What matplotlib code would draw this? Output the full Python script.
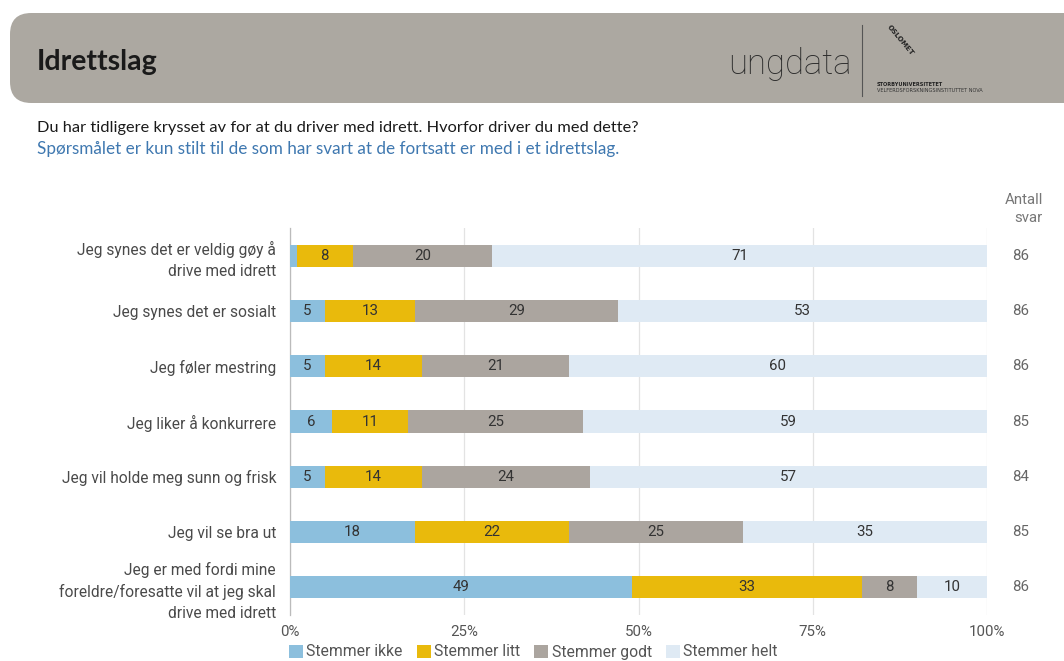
import matplotlib
matplotlib.use("Agg")
import matplotlib.pyplot as plt
from matplotlib.patches import FancyBboxPatch, Patch
from matplotlib.transforms import blended_transform_factory
from matplotlib.ticker import PercentFormatter

# Survey statements (top to bottom)
statements = [
    "Jeg synes det er veldig gøy å\ndrive med idrett",
    "Jeg synes det er sosialt",
    "Jeg føler mestring",
    "Jeg liker å konkurrere",
    "Jeg vil holde meg sunn og frisk",
    "Jeg vil se bra ut",
    "Jeg er med fordi mine\nforeldre/foresatte vil at jeg skal\ndrive med idrett",
]
# Percent answering each option
stemmer_ikke = [1, 5, 5, 6, 5, 18, 49]
stemmer_litt = [8, 13, 14, 11, 14, 22, 33]
stemmer_godt = [20, 29, 21, 25, 24, 25, 8]
stemmer_helt = [71, 53, 60, 59, 57, 35, 10]
antall_svar = [86, 86, 86, 85, 84, 85, 86]

series_names = ["Stemmer ikke", "Stemmer litt", "Stemmer godt", "Stemmer helt"]
series_values = [stemmer_ikke, stemmer_litt, stemmer_godt, stemmer_helt]
colors = ["#8CBFDD", "#E9BA0C", "#ABA59F", "#DFEAF4"]
tick_values = [0, 25, 50, 75, 100]

FS = 10.8  # base font size for chart text

W, H = 1064, 661
fig = plt.figure(figsize=(W / 100, H / 100), dpi=100)
fig.patch.set_facecolor("white")

# Header band
header = FancyBboxPatch((10 / W, 1 - 103 / H), 1.2, 90 / H,
                        boxstyle="round,pad=0,rounding_size=0.02",
                        transform=fig.transFigure, facecolor="#ACA8A1",
                        edgecolor="none", mutation_aspect=W / H)
fig.patches.append(header)
fig.text(37 / W, 1 - 62 / H, "Idrettslag", fontsize=20.5, fontweight="bold",
         family="Lato", color="#1a1a1a", va="center", ha="left")
fig.text(790 / W, 1 - 64 / H, "ungdata", fontsize=25, family="Roboto",
         fontweight="light", color="#2b2b2b", va="center", ha="center")
fig.add_artist(plt.Line2D([862 / W, 862 / W], [1 - 25 / H, 1 - 96 / H],
                          transform=fig.transFigure, color="#555555", lw=0.8))
fig.text(900 / W, 1 - 40 / H, "OSLOMET", fontsize=5, fontweight="bold",
         color="#222222", rotation=-50, ha="center", va="center")
fig.text(877 / W, 1 - 84 / H, "STORBYUNIVERSITETET", fontsize=3.6,
         fontweight="bold", color="#222222", ha="left", va="center")
fig.text(877 / W, 1 - 91 / H, "VELFERDSFORSKNINGSINSTITUTTET NOVA",
         fontsize=3.6, color="#333333", ha="left", va="center")

# Question text
fig.text(37 / W, 1 - 128 / H,
         "Du har tidligere krysset av for at du driver med idrett. Hvorfor driver du med dette?",
         fontsize=11.8, family="Lato", color="#1a1a1a", va="center", ha="left")
fig.text(37 / W, 1 - 149 / H,
         "Spørsmålet er kun stilt til de som har svart at de fortsatt er med i et idrettslag.",
         fontsize=12.3, family="Lato", color="#3F78B0", va="center", ha="left")

# Chart
ax = fig.add_axes([290 / W, 1 - 615 / H, 697 / W, 387 / H])
y = list(range(len(statements)))
left = [0] * len(statements)
for name, vals, col in zip(series_names, series_values, colors):
    bars = ax.barh(y, vals, left=left, height=0.4, color=col, label=name,
                   zorder=3)
    for b, v in zip(bars, vals):
        if v >= 3:
            ax.text(b.get_x() + b.get_width() / 2, b.get_y() + b.get_height() / 2,
                    f"{v}", ha="center", va="center", fontsize=FS,
                    family="Roboto", color="#333333", zorder=4)
    left = [l + v for l, v in zip(left, vals)]

ax.set_xlim(0, 100)
ax.set_ylim(len(statements) - 0.5, -0.5)
ax.set_yticks(y)
ax.set_yticklabels(statements, fontsize=11.2, family="Roboto", color="#4a4a4a",
                   linespacing=1.45)
ax.set_xticks(tick_values)
ax.xaxis.set_major_formatter(PercentFormatter(decimals=0))
ax.tick_params(axis="x", length=0, labelsize=FS, labelcolor="#555555", pad=7)
ax.tick_params(axis="y", length=0, pad=10)
for lbl in ax.get_xticklabels():
    lbl.set_family("Roboto")
ax.grid(axis="x", color="#E3E3E3", lw=0.9, zorder=0)
for s in ["top", "right", "bottom"]:
    ax.spines[s].set_visible(False)
ax.spines["left"].set_color("#BBBBBB")
ax.spines["left"].set_linewidth(0.9)
ax.set_facecolor("white")

# Respondent counts column
trans = blended_transform_factory(fig.transFigure, ax.transData)
for yi, n in zip(y, antall_svar):
    ax.text(1021 / W, yi, f"{n}", transform=trans, ha="center", va="center",
            fontsize=FS, family="Roboto", color="#666666")
fig.text(1043 / W, 1 - 209 / H, "Antall\nsvar", ha="right", va="center",
         fontsize=FS, family="Roboto", color="#777777", linespacing=1.3)

# Legend
handles = [Patch(facecolor=c, edgecolor="none") for c in colors]
fig.legend(handles, series_names, loc="center left",
           bbox_to_anchor=(289 / W, 1 - 652 / H), ncol=4, frameon=False,
           handlelength=0.9, handleheight=0.9, handletextpad=0.2,
           columnspacing=0.9, prop={"family": "Roboto", "size": 11.3},
           labelcolor="#555555", borderaxespad=0, borderpad=0)

fig.savefig("out.png", dpi=100, facecolor="white")
